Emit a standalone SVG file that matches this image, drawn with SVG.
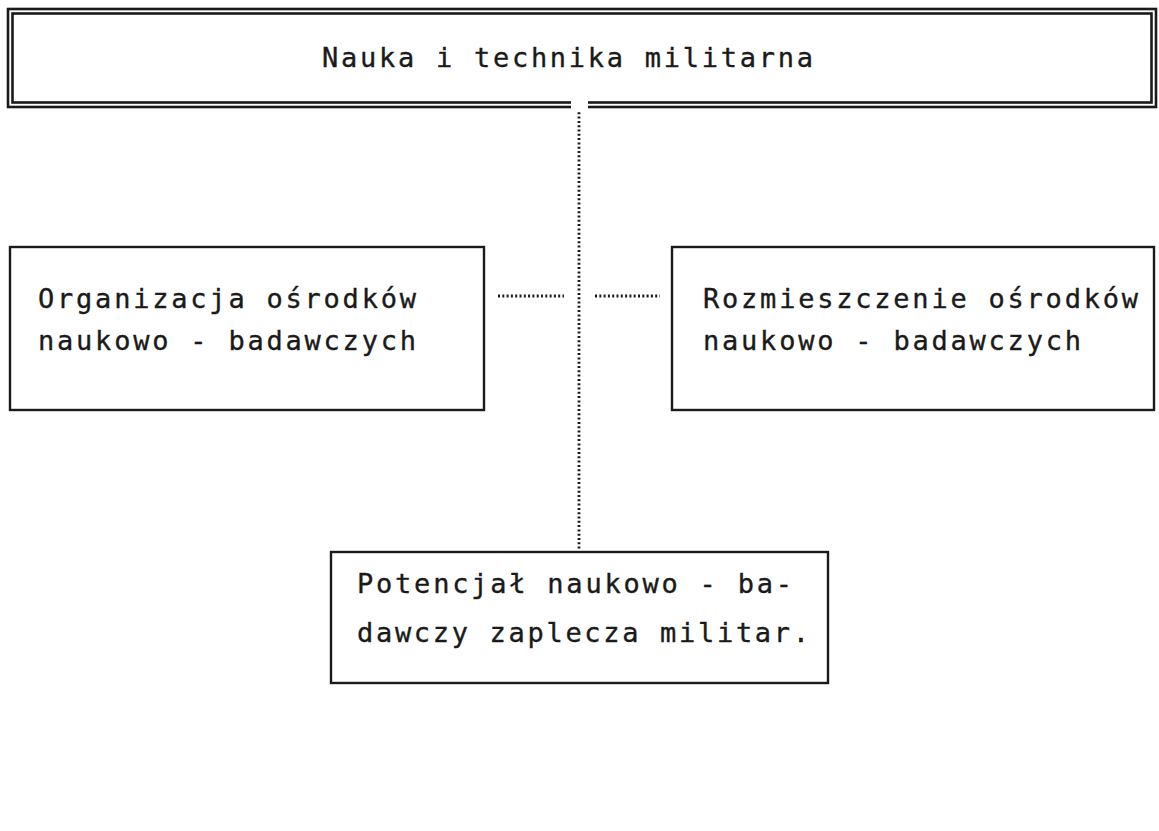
<svg xmlns="http://www.w3.org/2000/svg" width="1159" height="831" viewBox="0 0 1159 831">
  <style>
    .bg { fill: #ffffff; }
    .box { fill: none; stroke: #1a1a1a; stroke-width: 2.4; }
    .dbl { fill: none; stroke: #1a1a1a; stroke-width: 2.6; }
    .t { font-family: "DejaVu Sans Mono", "Liberation Mono", monospace; font-size: 27px; fill: #1a1a1a; stroke: #1a1a1a; stroke-width: 0.35; dominant-baseline: central; }
    .dot { fill: none; stroke: #1a1a1a; stroke-width: 2.8; stroke-dasharray: 2 2.3; }
  </style>
  <rect class="bg" x="0" y="0" width="1159" height="831"/>

  <g id="connectors">
    <line class="dot" x1="579" y1="108" x2="579" y2="552"/>
    <line class="dot" x1="498" y1="296" x2="564" y2="296"/>
    <line class="dot" x1="595" y1="296" x2="660" y2="296"/>
  </g>

  <g id="node-top">
    <rect class="dbl" x="8" y="9" width="1148" height="98"/>
    <rect class="dbl" x="12.5" y="13.5" width="1139" height="89"/>
    <rect x="571" y="100" width="17" height="10" fill="#ffffff"/>
    <text class="t" x="322" y="57" textLength="491" lengthAdjust="spacing">Nauka i technika militarna</text>
  </g>

  <g id="node-left">
    <rect class="box" x="10" y="247" width="474" height="163"/>
    <text class="t" x="38" y="298" textLength="378" lengthAdjust="spacing">Organizacja ośrodków</text>
    <text class="t" x="38" y="340" textLength="378" lengthAdjust="spacing">naukowo - badawczych</text>
  </g>

  <g id="node-right">
    <rect class="box" x="672" y="247" width="482" height="163"/>
    <text class="t" x="703" y="298" textLength="435" lengthAdjust="spacing">Rozmieszczenie ośrodków</text>
    <text class="t" x="703" y="340" textLength="378" lengthAdjust="spacing">naukowo - badawczych</text>
  </g>

  <g id="node-bottom">
    <rect class="box" x="331" y="552" width="497" height="131"/>
    <text class="t" x="357" y="583" textLength="435" lengthAdjust="spacing">Potencjał naukowo - ba-</text>
    <text class="t" x="357" y="632" textLength="452" lengthAdjust="spacing">dawczy zaplecza militar.</text>
  </g>
</svg>
